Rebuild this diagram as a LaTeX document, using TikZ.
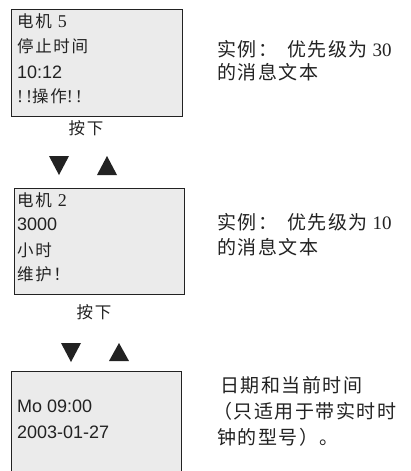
\documentclass[tikz,border=0pt]{standalone}
\usepackage{fontspec}
\setmainfont{Liberation Serif}
\newfontfamily\lsans{Liberation Sans}
\newfontfamily\cjkbox[LetterSpace=10]{Noto Sans CJK SC}
\newfontfamily\cjkside[LetterSpace=8]{Noto Sans CJK SC}
\newcommand\bxcjk{\cjkbox\fontsize{16.5}{20}\selectfont}
\newcommand\sdcjk{\cjkside\fontsize{19}{24}\selectfont}
\definecolor{boxfill}{HTML}{EBEBEB}
\definecolor{ink}{HTML}{222222}
\begin{document}
\begin{tikzpicture}[x=1pt,y=-1pt,
  screen/.style={draw=ink, line width=1.2pt, fill=boxfill, inner sep=0pt, anchor=north west},
  boxline/.style={anchor=west, inner sep=0pt, text=ink, font=\fontsize{18}{20}\selectfont},
  sansline/.style={anchor=west, inner sep=0pt, text=ink, font=\lsans\fontsize{18}{20}\selectfont},
  side/.style={anchor=west, inner sep=0pt, text=ink, font=\fontsize{19}{24}\selectfont},
  press/.style={inner sep=0pt, text=ink, font=\bxcjk},
  tri/.style={fill=ink}]
\clip (0,0) rectangle (411,471);
\fill[white] (0,0) rectangle (411,471);

% screens
\node[screen, minimum width=171pt, minimum height=107pt] (b1) at (11,9) {};
\node[screen, minimum width=170pt, minimum height=106pt] (b2) at (14,188) {};
\node[screen, minimum width=170pt, minimum height=130pt] (b3) at (11,371) {};

% screen 1 text
\node[boxline] (b1a) at (17,21) {{\bxcjk 电机}\hspace{6pt}5};
\node[boxline] (b1b) at (17,46) {\bxcjk 停止时间};
\node[sansline] (b1c) at (17,72) {10:12};
\node[boxline] (b1d) at (17,96) {!\,!{\bxcjk 操作}!\hspace{3pt}!};

% screen 2 text
\node[boxline] (b2a) at (17,200) {{\bxcjk 电机}\hspace{6pt}2};
\node[sansline] (b2b) at (17,224) {3000};
\node[boxline] (b2c) at (17,250) {\bxcjk 小时};
\node[boxline] (b2d) at (17,274) {\bxcjk 维护！};

% screen 3 text
\node[sansline] (b3a) at (17,406) {Mo 09:00};
\node[sansline] (b3b) at (17,432) {2003-01-27};

% press labels
\node[press] (p1) at (86,128) {按下};
\node[press] (p2) at (94,312) {按下};

% arrow keys
\fill[tri] (49,156) -- (69,156) -- (59,175) -- cycle;
\fill[tri] (97,175) -- (117,175) -- (107,156) -- cycle;
\fill[tri] (61,343) -- (81,343) -- (71,362) -- cycle;
\fill[tri] (109,361) -- (129,361) -- (119,343) -- cycle;

% side texts
\node[side] (s1a) at (217,49) {{\sdcjk 实例：}\hspace{10pt}{\sdcjk 优先级为} 30};
\node[side] (s1b) at (217,72) {\sdcjk 的消息文本};
\node[side] (s2a) at (217,222) {{\sdcjk 实例：}\hspace{10pt}{\sdcjk 优先级为} 10};
\node[side] (s2b) at (217,247) {\sdcjk 的消息文本};
\node[side] (s3a) at (220,385) {\sdcjk 日期和当前时间};
\node[side] (s3b) at (213,411) {\sdcjk （只适用于带实时时};
\node[side] (s3c) at (217,437) {\sdcjk 钟的型号）。};
\end{tikzpicture}
\end{document}
